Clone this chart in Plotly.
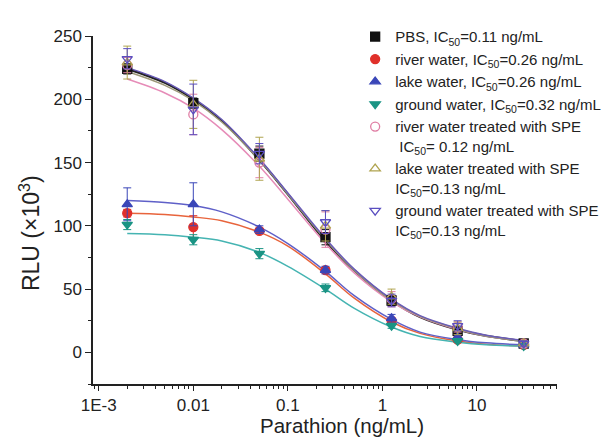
import plotly.graph_objects as go

# ---- data ----
conc = [0.002, 0.01, 0.05, 0.25, 1.25, 6.25, 31.25]

pbs = [224, 197, 157, 91, 41, 17, 7]
pbs_err = [4, 4, 6, 6, 4, 3, 2]
river = [110, 99, 96, 65, 25, 10, 6]
river_err = [3, 9, 2, 2, 2, 1, 1]
lake = [117, 117, 97, 65, 27, 12, 6]
lake_err = [13, 17, 3, 3, 3, 2, 1]
ground = [101, 89, 78, 51, 21, 9, 5]
ground_err = [4, 4, 4, 3, 2, 1, 1]
river_spe = [227, 188, 150, 97, 42, 20, 7]
river_spe_err = [6, 16, 12, 14, 6, 4, 2]
lake_spe = [229, 196, 153, 100, 44, 19, 7]
lake_spe_err = [13, 19, 17, 12, 6, 5, 2]
ground_spe = [232, 192, 157, 103, 41, 21, 7]
ground_spe_err = [8, 20, 8, 9, 5, 4, 2]

# fitted curves
curve_x = [0.002, 0.005, 0.01, 0.02, 0.05, 0.1, 0.25, 0.5, 1.25, 2.5, 6.25, 12.5, 31.25]
pbs_fit = [224, 213, 200, 183, 152, 125, 88, 65, 41, 28, 18, 13, 9]
river_fit = [110, 109, 107, 104, 95, 84, 62, 43, 24, 15, 9, 6.5, 5]
lake_fit = [120, 118.5, 116, 111, 99, 86, 64, 45, 26, 16, 10, 7.5, 6]
ground_fit = [94, 93, 91, 88, 79, 68, 50, 35, 20, 12.5, 8, 6, 5]
river_spe_fit = [216, 205, 193, 176, 147, 121, 86, 63, 40, 28, 18, 13, 9]
lake_spe_fit = [222, 211, 199, 182, 152, 125, 89, 65, 41, 28.5, 18.5, 13, 9]
ground_spe_fit = [225, 214, 201, 184, 153, 126, 90, 66, 42, 29, 19, 13.5, 9.5]

names = [
    "PBS, IC<sub>50</sub>=0.11 ng/mL",
    "river water, IC<sub>50</sub>=0.26 ng/mL",
    "lake water, IC<sub>50</sub>=0.26 ng/mL",
    "ground water, IC<sub>50</sub>=0.32 ng/mL",
    "river water treated with SPE<br> IC<sub>50</sub>= 0.12 ng/mL",
    "lake water treated with SPE<br>IC<sub>50</sub>=0.13 ng/mL",
    "ground water treated with SPE<br>IC<sub>50</sub>=0.13 ng/mL",
]

x_ticks = [0.001, 0.01, 0.1, 1, 10]
x_ticktext = ["1E-3", "0.01", "0.1", "1", "10"]
y_ticks = [0, 50, 100, 150, 200, 250]
x_title = "Parathion (ng/mL)"
y_title = "RLU (×10<sup>3</sup>)"

series = [
    (pbs, pbs_err, pbs_fit, "#111111", "#222222", "square", 2.2),
    (river, river_err, river_fit, "#e0302a", "#e8643c", "circle", 1.5),
    (lake, lake_err, lake_fit, "#3a46b8", "#5f60c8", "triangle-up", 1.5),
    (ground, ground_err, ground_fit, "#1a9484", "#45b4b2", "triangle-down", 1.5),
    (river_spe, river_spe_err, river_spe_fit, "#e07ea4", "#e68cb8", "circle-open", 1.5),
    (lake_spe, lake_spe_err, lake_spe_fit, "#b0a450", "#9c9878", "triangle-up-open", 1.5),
    (ground_spe, ground_spe_err, ground_spe_fit, "#5a4ec0", "#6a5cb8", "triangle-down-open", 1.5),
]

fig = go.Figure()

for vals, err, fit, mcol, lcol, sym, lw in series:
    fig.add_trace(go.Scatter(
        x=curve_x, y=fit, mode="lines", line=dict(color=lcol, width=lw, shape="spline"),
        showlegend=False, hoverinfo="skip"))

for (vals, err, fit, mcol, lcol, sym, lw), nm in zip(series, names):
    fig.add_trace(go.Scatter(
        x=conc, y=vals, mode="markers", name=nm,
        marker=dict(symbol=sym, size=9, color=mcol, line=dict(color=mcol, width=1.3)),
        error_y=dict(type="data", array=err, visible=True, color=mcol, thickness=1, width=4),
    ))

minor_x = [0.0009]
for k in range(-3, 2):
    for m in range(2, 10):
        minor_x.append(m * 10 ** k)

FONT = "Liberation Sans, Arial, sans-serif"

fig.update_layout(
    width=610, height=440,
    margin=dict(l=85, r=44, t=17, b=64),
    paper_bgcolor="white", plot_bgcolor="white",
    font=dict(family=FONT, size=17, color="#222222"),
    showlegend=True,
    legend=dict(x=0.565, y=1.045, xanchor="left", yanchor="top", valign="top",
                font=dict(size=15, color="#222222"), bgcolor="rgba(0,0,0,0)",
                tracegroupgap=0, itemwidth=30),
    xaxis=dict(
        type="log", range=[-3.061, 1.847],
        tickmode="array", tickvals=x_ticks, ticktext=x_ticktext,
        ticks="outside", ticklen=5, tickwidth=1.3, tickcolor="#222",
        showline=True, linecolor="#222", linewidth=1.5,
        showgrid=False, zeroline=False,
        minor=dict(tickmode="array", tickvals=minor_x, ticks="outside", ticklen=3,
                   tickwidth=1.2, tickcolor="#222", showgrid=False),
        tickfont=dict(size=17),
    ),
    yaxis=dict(
        range=[-25, 250],
        tickmode="array", tickvals=y_ticks,
        ticks="outside", ticklen=6, tickwidth=1.3, tickcolor="#222",
        showline=True, linecolor="#222", linewidth=1.5,
        showgrid=False, zeroline=False,
        minor=dict(tickmode="array", tickvals=[-25, 25, 75, 125, 175, 225], ticks="outside",
                   ticklen=3, tickwidth=1.2, tickcolor="#222", showgrid=False),
        tickfont=dict(size=17),
    ),
    annotations=[
        dict(text=x_title, xref="paper", yref="paper", x=0.536, y=-0.1184,
             xanchor="center", yanchor="middle", showarrow=False,
             font=dict(size=20.5, family=FONT, color="#222222")),
        dict(text=y_title, xref="paper", yref="paper", x=-0.137, y=0.435,
             xanchor="center", yanchor="middle", showarrow=False, textangle=-90,
             font=dict(size=23, family=FONT, color="#222222")),
    ],
)

fig.write_html("out.html")
